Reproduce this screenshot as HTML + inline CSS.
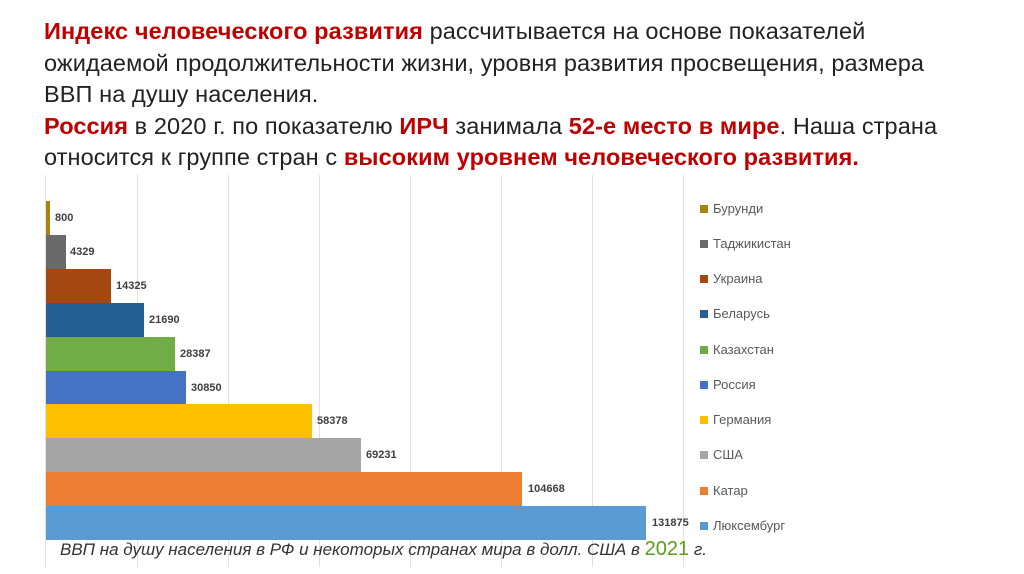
<!DOCTYPE html>
<html><head><meta charset="utf-8"><style>
body{margin:0;width:1024px;height:574px;background:#fff;position:relative;overflow:hidden;font-family:"Liberation Sans",sans-serif}
.t{position:absolute;left:44px;top:16px;font-size:23.5px;line-height:31.5px;color:#222;white-space:nowrap;letter-spacing:0.1px}
.r{color:#c00000;font-weight:bold}
.g{position:absolute;top:175px;height:392px;width:1px;background:#e0e0e0}
.b{position:absolute;left:46px;height:34px}
.v{position:absolute;font-size:11px;font-weight:bold;color:#404040}
.l{position:absolute;left:700px;font-size:13px;color:#595959}
.l i{display:inline-block;width:8px;height:8px;margin-right:5px;vertical-align:0px}
.c{position:absolute;left:60px;top:538px;font-size:17px;font-style:italic;color:#333}
</style></head><body>
<div class="t"><span class="r">Индекс человеческого развития</span> рассчитывается на основе показателей<br>ожидаемой продолжительности жизни, уровня развития просвещения, размера<br>ВВП на душу населения.<br><span class="r">Россия</span> в 2020 г. по показателю <span class="r">ИРЧ</span> занимала <span class="r">52-е место в мире</span>. Наша страна<br>относится к группе стран с <span class="r">высоким уровнем человеческого развития.</span></div>
<div class="g" style="left:45px"></div><div class="g" style="left:137px"></div><div class="g" style="left:228px"></div><div class="g" style="left:319px"></div><div class="g" style="left:410px"></div><div class="g" style="left:501px"></div><div class="g" style="left:592px"></div><div class="g" style="left:683px"></div>
<div class="b" style="top:201px;width:4px;background:#a9820f"></div><div class="v" style="left:55px;top:212px">800</div>
<div class="b" style="top:235px;width:20px;background:#6a6a6a"></div><div class="v" style="left:70px;top:246px">4329</div>
<div class="b" style="top:269px;width:65px;background:#a5480f"></div><div class="v" style="left:116px;top:280px">14325</div>
<div class="b" style="top:303px;width:98px;background:#255e91"></div><div class="v" style="left:149px;top:314px">21690</div>
<div class="b" style="top:337px;width:129px;background:#70ad47"></div><div class="v" style="left:180px;top:348px">28387</div>
<div class="b" style="top:371px;width:140px;background:#4472c4"></div><div class="v" style="left:191px;top:382px">30850</div>
<div class="b" style="top:404px;width:266px;background:#ffc000"></div><div class="v" style="left:317px;top:415px">58378</div>
<div class="b" style="top:438px;width:315px;background:#a5a5a5"></div><div class="v" style="left:366px;top:449px">69231</div>
<div class="b" style="top:472px;width:476px;background:#ed7d31"></div><div class="v" style="left:528px;top:483px">104668</div>
<div class="b" style="top:506px;width:600px;background:#5b9bd5"></div><div class="v" style="left:652px;top:517px">131875</div>
<div class="l" style="top:201px"><i style="background:#a9820f"></i>Бурунди</div>
<div class="l" style="top:236px"><i style="background:#6a6a6a"></i>Таджикистан</div>
<div class="l" style="top:271px"><i style="background:#a5480f"></i>Украина</div>
<div class="l" style="top:306px"><i style="background:#255e91"></i>Беларусь</div>
<div class="l" style="top:342px"><i style="background:#70ad47"></i>Казахстан</div>
<div class="l" style="top:377px"><i style="background:#4472c4"></i>Россия</div>
<div class="l" style="top:412px"><i style="background:#ffc000"></i>Германия</div>
<div class="l" style="top:447px"><i style="background:#a5a5a5"></i>США</div>
<div class="l" style="top:483px"><i style="background:#ed7d31"></i>Катар</div>
<div class="l" style="top:518px"><i style="background:#5b9bd5"></i>Люксембург</div>
<div class="c">ВВП на душу населения в РФ и некоторых странах мира в долл. США в <span style="color:#5a9e1a;font-style:normal;font-size:20px">2021</span> г.</div>
</body></html>
